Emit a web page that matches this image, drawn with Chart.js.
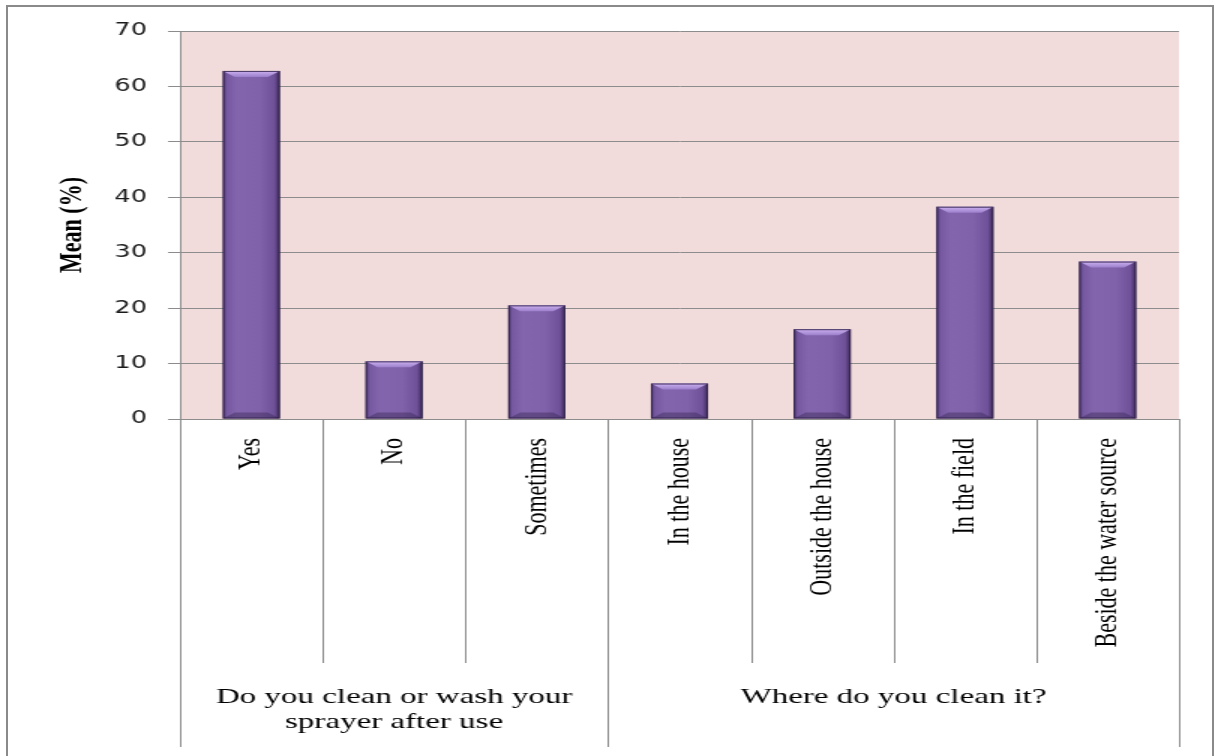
<!DOCTYPE html>
<html><head><meta charset="utf-8">
<script src="https://cdn.jsdelivr.net/npm/chart.js@4.4.1/dist/chart.umd.min.js"></script>
<style>
html,body{margin:0;padding:0;background:#fff;overflow:hidden;width:1215px;height:756px;}
#frame{position:absolute;left:6px;top:5px;width:1208px;height:800px;border:2px solid #8a8a8a;box-sizing:border-box;}
#wrap{position:absolute;left:0;top:0;width:810px;height:756px;transform:scaleX(1.5);transform-origin:0 0;}
</style></head>
<body>
<div id="frame"></div>
<div id="wrap"><canvas id="c"></canvas></div>
<script>
// ---- data ----
const categories = ['Yes', 'No', 'Sometimes', 'In the house', 'Outside the house', 'In the field', 'Beside the water source'];
const meanValues = [62.8, 10.4, 20.5, 6.4, 16.2, 38.3, 28.4];
const groupLabels = [['Do you clean or wash your', 'sprayer after use'], ['Where do you clean it?']];
const groupSizes = [3, 4];
const yTickValues = [0, 10, 20, 30, 40, 50, 60, 70];
const yTitle = 'Mean (%)';

// ---- styles ----
const GRID = '#8c8c8c';
const PLOT_BG = '#f2dcdb';
const SERIF = "'Liberation Serif', 'Times New Roman', serif";

function barGradient(ctx) {
  const chart = ctx.chart;
  const xs = chart.scales.x;
  if (!xs || !chart.chartArea) return '#8064a2';
  const cx = xs.getPixelForValue(ctx.dataIndex);
  const w = (xs.right - xs.left) / categories.length * 0.4;
  const g = chart.ctx.createLinearGradient(cx - w / 2, 0, cx + w / 2, 0);
  g.addColorStop(0, '#4c346c');
  g.addColorStop(0.07, '#7558a0');
  g.addColorStop(0.25, '#8265ad');
  g.addColorStop(0.65, '#8062aa');
  g.addColorStop(0.9, '#6f519a');
  g.addColorStop(1, '#3c2956');
  return g;
}

const plotBg = {
  id: 'plotBg',
  beforeDraw(chart) {
    const {ctx, chartArea: a} = chart;
    ctx.save();
    ctx.fillStyle = PLOT_BG;
    ctx.fillRect(a.left, a.top, a.right - a.left, a.bottom - a.top);
    ctx.restore();
  }
};

const bevel = {
  id: 'bevel',
  afterDatasetsDraw(chart) {
    const ctx = chart.ctx;
    const meta = chart.getDatasetMeta(0);
    ctx.save();
    meta.data.forEach(el => {
      const {x, y, width, base} = el.getProps(['x', 'y', 'width', 'base'], true);
      const l = x - width / 2, r = x + width / 2;
      const d = Math.min(6, (base - y) / 3), ins = 8;
      // top highlight
      const gt = ctx.createLinearGradient(0, y, 0, y + d);
      gt.addColorStop(0, '#cdb2f2');
      gt.addColorStop(1, '#9c7fcb');
      ctx.fillStyle = gt;
      ctx.beginPath();
      ctx.moveTo(l, y); ctx.lineTo(r, y); ctx.lineTo(r - ins, y + d); ctx.lineTo(l + ins, y + d); ctx.closePath();
      ctx.fill();
      // bottom shade
      ctx.fillStyle = 'rgba(40,25,65,0.35)';
      ctx.beginPath();
      ctx.moveTo(l, base); ctx.lineTo(r, base); ctx.lineTo(r - ins, base - d); ctx.lineTo(l + ins, base - d); ctx.closePath();
      ctx.fill();
      // outline
      ctx.strokeStyle = 'rgba(45,30,70,0.85)';
      ctx.lineWidth = 1;
      ctx.strokeRect(l + 0.5, y + 0.5, width - 1, base - y - 1);
    });
    ctx.restore();
  }
};

const categoryAxis = {
  id: 'categoryAxis',
  afterDraw(chart) {
    const {ctx} = chart;
    const xs = chart.scales.x;
    const n = categories.length;
    const step = (xs.right - xs.left) / n;
    const top = xs.top;
    const innerLen = 244, groupLen = 328;
    const groupEdges = [0];
    groupSizes.forEach(s => groupEdges.push(groupEdges[groupEdges.length - 1] + s));
    ctx.save();
    ctx.strokeStyle = GRID;
    ctx.lineWidth = 1;
    for (let i = 0; i <= n; i++) {
      const px = Math.round(xs.left + i * step) + 0.5;
      const len = groupEdges.includes(i) ? groupLen : innerLen;
      ctx.beginPath();
      ctx.moveTo(px, top);
      ctx.lineTo(px, top + len);
      ctx.stroke();
    }
    ctx.fillStyle = '#000';
    ctx.font = '22px ' + SERIF;
    ctx.textAlign = 'center';
    ctx.textBaseline = 'middle';
    groupLabels.forEach((lines, g) => {
      const cx = xs.left + (groupEdges[g] + groupEdges[g + 1]) / 2 * step;
      lines.forEach((t, k) => ctx.fillText(t, cx, top + 278 + k * 25));
    });
    ctx.restore();
  }
};

new Chart(document.getElementById('c'), {
  type: 'bar',
  data: {
    labels: categories,
    datasets: [{
      data: meanValues,
      backgroundColor: barGradient,
      borderWidth: 0,
      barPercentage: 0.4,
      categoryPercentage: 1.0
    }]
  },
  options: {
    responsive: true,
    maintainAspectRatio: false,
    animation: false,
    devicePixelRatio: 1,
    layout: {padding: {top: 31, right: 24, left: 0, bottom: 0}},
    plugins: {legend: {display: false}, tooltip: {enabled: false}},
    scales: {
      x: {
        grid: {display: false, drawTicks: false},
        border: {display: true, color: GRID, width: 1},
        ticks: {
          autoSkip: false, minRotation: 90, maxRotation: 90, padding: 19,
          color: '#000', font: {family: SERIF, size: 22}
        },
        afterFit(scale) { scale.height = 337; }
      },
      y: {
        min: 0, max: 70,
        afterBuildTicks(scale) { scale.ticks = yTickValues.map(v => ({value: v})); },
        grid: {color: GRID, lineWidth: 1, tickLength: 8, drawTicks: true},
        border: {display: true, color: GRID, width: 1},
        ticks: {
          padding: 14, color: '#1a1a1a',
          font: {family: "'DejaVu Sans', Verdana, sans-serif", size: 17}
        },
        title: {
          display: true, text: yTitle, color: '#000',
          font: {family: SERIF, size: 22, weight: 'bold'},
          padding: {top: 35, bottom: 0}
        },
        afterFit(scale) { scale.width = 120; }
      }
    }
  },
  plugins: [plotBg, bevel, categoryAxis]
});
</script>
</body></html>
